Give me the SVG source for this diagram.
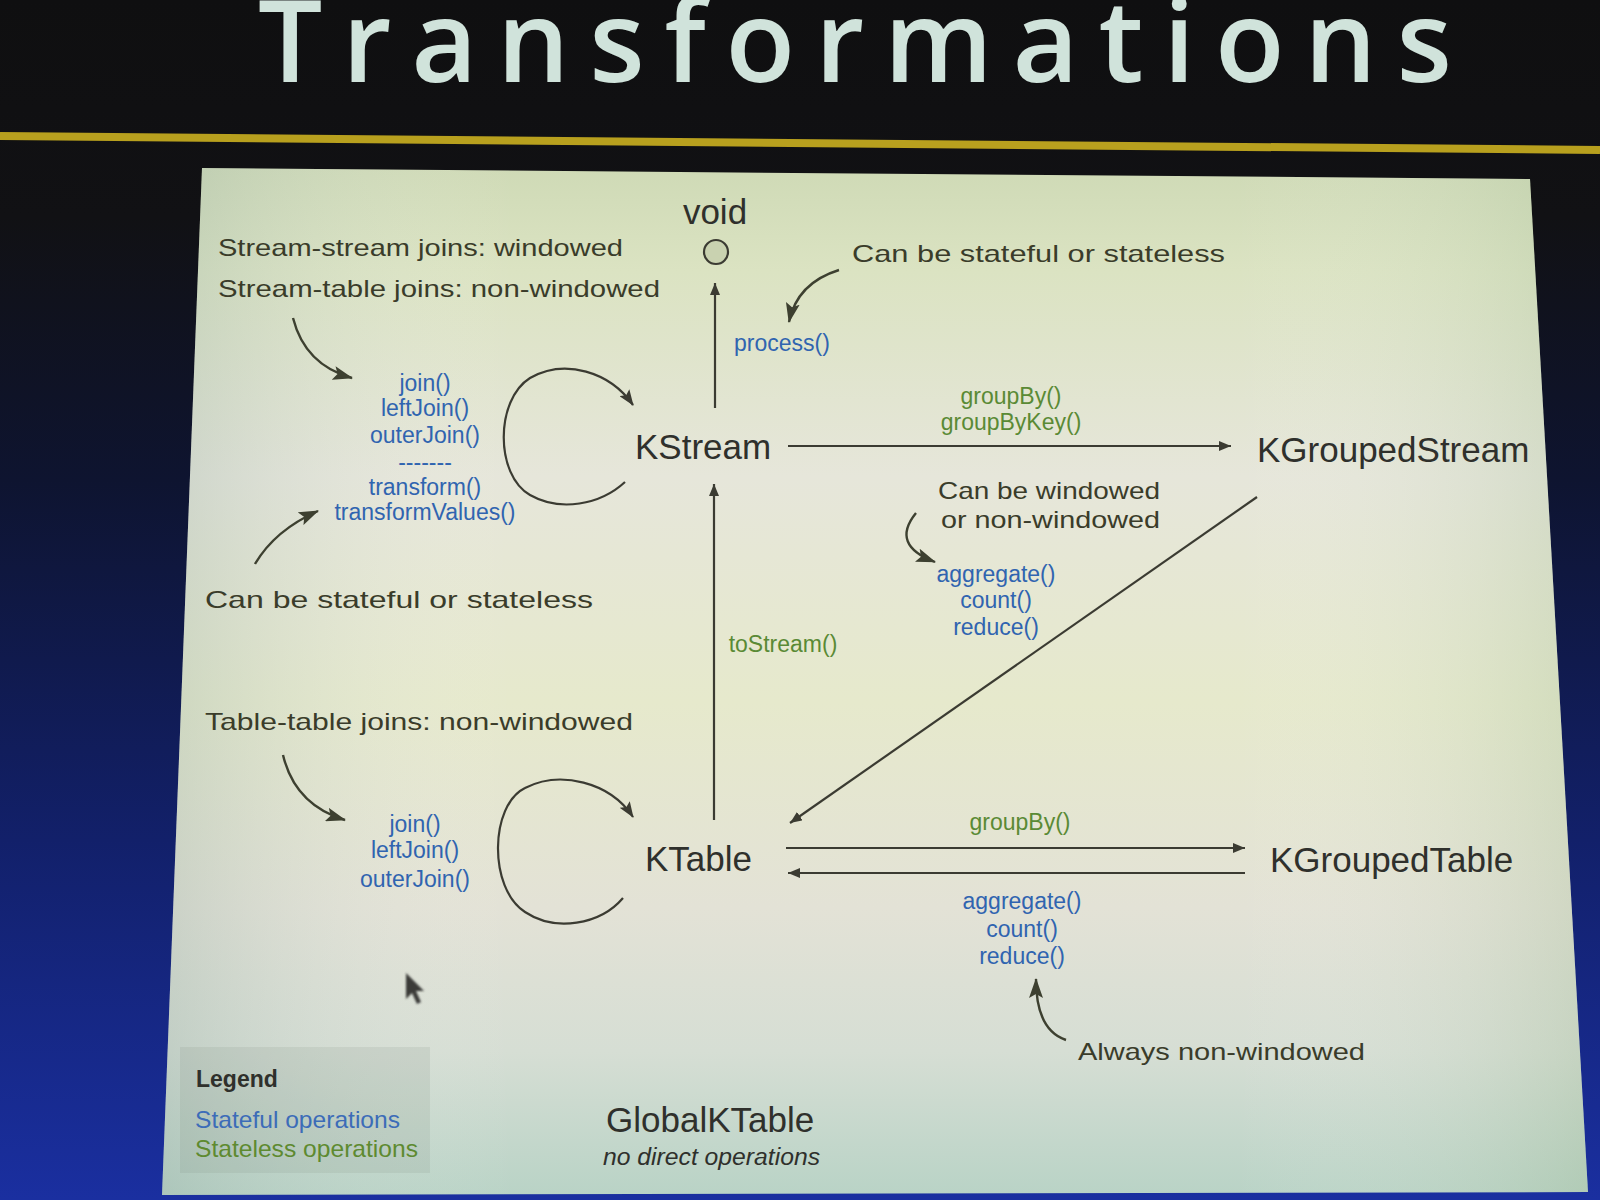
<svg xmlns="http://www.w3.org/2000/svg" width="1600" height="1200" viewBox="0 0 1600 1200">
<defs>
<style>
.node{font-family:"Liberation Sans",Arial,sans-serif;font-size:35px;fill:#2f302c}
.op{font-family:"Liberation Sans",Arial,sans-serif;font-size:23px;text-anchor:middle}
.blue{fill:#3064b0}
.green{fill:#5a8a35}
.hand{font-family:"Liberation Sans",Arial,sans-serif;font-size:24px;fill:#3a3c2a}
.conn{stroke:#3b3b32;stroke-width:2.2;fill:none}
.ann{stroke:#3d4030;stroke-width:2.4;fill:none}
</style>
<linearGradient id="bg" x1="0" y1="0" x2="0" y2="1200" gradientUnits="userSpaceOnUse">
<stop offset="0" stop-color="#0f0f10"/>
<stop offset="0.18" stop-color="#111114"/>
<stop offset="0.4" stop-color="#0e1430"/>
<stop offset="0.7" stop-color="#12206a"/>
<stop offset="1" stop-color="#1a2fa0"/>
</linearGradient>
<linearGradient id="panel" x1="0" y1="168" x2="0" y2="1195" gradientUnits="userSpaceOnUse">
<stop offset="0" stop-color="#cfdab6"/>
<stop offset="0.1" stop-color="#dbe3c2"/>
<stop offset="0.3" stop-color="#e6e6da"/>
<stop offset="0.52" stop-color="#e6e9cc"/>
<stop offset="0.72" stop-color="#e3e2d6"/>
<stop offset="0.86" stop-color="#d6ded4"/>
<stop offset="1" stop-color="#b9d3c6"/>
</linearGradient>
<linearGradient id="panelH" x1="160" y1="0" x2="1590" y2="0" gradientUnits="userSpaceOnUse">
<stop offset="0" stop-color="#8ea8a0" stop-opacity="0.3"/>
<stop offset="0.25" stop-color="#ffffff" stop-opacity="0"/>
<stop offset="0.75" stop-color="#ffffff" stop-opacity="0"/>
<stop offset="1" stop-color="#9cb890" stop-opacity="0.3"/>
</linearGradient>
<marker id="ah" viewBox="0 0 12 10" refX="12" refY="5" markerWidth="12" markerHeight="10" markerUnits="userSpaceOnUse" orient="auto">
<path d="M0,0 L12,5 L0,10 z" fill="#3b3b32"/>
</marker>
<marker id="ahLoop" viewBox="0 0 16 12" refX="15" refY="6" markerWidth="16" markerHeight="12" markerUnits="userSpaceOnUse" orient="auto">
<path d="M0,0 L16,6 L0,12 L3,6 z" fill="#3b3b32"/>
</marker>
<marker id="ahBig" viewBox="0 0 20 14" refX="19" refY="7" markerWidth="20" markerHeight="14" markerUnits="userSpaceOnUse" orient="auto">
<path d="M0,0 L20,7 L0,14 L4,7 z" fill="#3d4030"/>
</marker>
<filter id="soft" x="-20%" y="-20%" width="140%" height="140%">
<feGaussianBlur stdDeviation="0.9"/>
</filter>
</defs>

<rect x="0" y="0" width="1600" height="1200" fill="url(#bg)"/>

<g id="title">
<text x="258" y="82" font-family="'Open Sans', Lato, sans-serif" font-size="114" font-weight="600" fill="#d0e3db" style="font-variant-ligatures:none" textLength="1194" lengthAdjust="spacing">Transformations</text>
</g>
<line x1="0" y1="136" x2="1600" y2="150" stroke="#b8a01e" stroke-width="8"/>

<g id="slide">
<polygon points="202,168 1530,179 1588,1192 162,1195" fill="url(#panel)"/>
<polygon points="202,168 1530,179 1588,1192 162,1195" fill="url(#panelH)"/>
</g>

<g id="connectors">
<line class="conn" x1="715" y1="408" x2="715" y2="283" marker-end="url(#ah)"/>
<line class="conn" x1="714" y1="820" x2="714" y2="484" marker-end="url(#ah)"/>
<line class="conn" x1="788" y1="446" x2="1231" y2="446" marker-end="url(#ah)"/>
<line class="conn" x1="1257" y1="497" x2="790" y2="823" marker-end="url(#ah)"/>
<line class="conn" x1="786" y1="848" x2="1245" y2="848" marker-end="url(#ah)"/>
<line class="conn" x1="1245" y1="873" x2="788" y2="873" marker-end="url(#ah)"/>
<path class="conn" d="M625,482 C600,505 560,512 530,495 C495,475 495,400 530,378 C565,358 610,372 633,405" marker-end="url(#ahLoop)"/>
<path class="conn" d="M623,898 C600,925 555,932 525,912 C488,888 490,805 525,788 C560,770 610,782 633,817" marker-end="url(#ahLoop)"/>
</g>

<g id="node-void">
<text class="node" x="715" y="224" font-size="32" text-anchor="middle">void</text>
<circle cx="716" cy="252" r="12" fill="#c9d2b0" stroke="#3b3b32" stroke-width="2.2"/>
</g>
<g id="node-kstream">
<text class="node" x="635" y="459">KStream</text>
</g>
<g id="node-kgroupedstream">
<text class="node" x="1257" y="462">KGroupedStream</text>
</g>
<g id="node-ktable">
<text class="node" x="645" y="871">KTable</text>
</g>
<g id="node-kgroupedtable">
<text class="node" x="1270" y="872">KGroupedTable</text>
</g>
<g id="node-globalktable">
<text class="node" x="606" y="1132">GlobalKTable</text>
<text x="603" y="1165" font-family="'Liberation Sans',Arial,sans-serif" font-size="23" font-style="italic" fill="#2f302c" textLength="217" lengthAdjust="spacingAndGlyphs">no direct operations</text>
</g>

<g id="edge-labels">
<text class="op blue" x="782" y="351">process()</text>
<text class="op green" x="1011" y="404">groupBy()</text>
<text class="op green" x="1011" y="430">groupByKey()</text>
<text class="op blue" x="996" y="582">aggregate()</text>
<text class="op blue" x="996" y="608">count()</text>
<text class="op blue" x="996" y="635">reduce()</text>
<text class="op green" x="783" y="652">toStream()</text>
<text class="op green" x="1020" y="830">groupBy()</text>
<text class="op blue" x="1022" y="909">aggregate()</text>
<text class="op blue" x="1022" y="937">count()</text>
<text class="op blue" x="1022" y="964">reduce()</text>
<text class="op blue" x="425" y="391">join()</text>
<text class="op blue" x="425" y="416">leftJoin()</text>
<text class="op blue" x="425" y="443">outerJoin()</text>
<text class="op blue" x="425" y="470">-------</text>
<text class="op blue" x="425" y="495">transform()</text>
<text class="op blue" x="425" y="520">transformValues()</text>
<text class="op blue" x="415" y="832">join()</text>
<text class="op blue" x="415" y="858">leftJoin()</text>
<text class="op blue" x="415" y="887">outerJoin()</text>
</g>

<g id="annotations">
<text class="hand" x="218" y="256" textLength="405" lengthAdjust="spacingAndGlyphs">Stream-stream joins: windowed</text>
<text class="hand" x="218" y="297" textLength="442" lengthAdjust="spacingAndGlyphs">Stream-table joins: non-windowed</text>
<text class="hand" x="852" y="262" textLength="373" lengthAdjust="spacingAndGlyphs">Can be stateful or stateless</text>
<text class="hand" x="205" y="608" textLength="388" lengthAdjust="spacingAndGlyphs">Can be stateful or stateless</text>
<text class="hand" x="938" y="499" textLength="222" lengthAdjust="spacingAndGlyphs">Can be windowed</text>
<text class="hand" x="941" y="528" textLength="219" lengthAdjust="spacingAndGlyphs">or non-windowed</text>
<text class="hand" x="205" y="730" textLength="428" lengthAdjust="spacingAndGlyphs">Table-table joins: non-windowed</text>
<text class="hand" x="1078" y="1060" textLength="287" lengthAdjust="spacingAndGlyphs">Always non-windowed</text>
<path class="ann" d="M293,318 Q305,365 352,378" marker-end="url(#ahBig)"/>
<path class="ann" d="M255,564 Q275,530 318,511" marker-end="url(#ahBig)"/>
<path class="ann" d="M839,270 Q797,283 789,322" marker-end="url(#ahBig)"/>
<path class="ann" d="M916,513 Q890,545 935,562" marker-end="url(#ahBig)"/>
<path class="ann" d="M283,755 Q295,805 345,820" marker-end="url(#ahBig)"/>
<path class="ann" d="M1066,1040 Q1036,1030 1036,979" marker-end="url(#ahBig)"/>
</g>

<g id="legend">
<rect x="180" y="1047" width="250" height="126" fill="#7a8a78" fill-opacity="0.14"/>
<text x="196" y="1087" font-family="'Liberation Sans',Arial,sans-serif" font-size="23" font-weight="bold" fill="#2f302c">Legend</text>
<text x="195" y="1128" font-family="'Liberation Sans',Arial,sans-serif" font-size="24" fill="#3c6cb8" textLength="205" lengthAdjust="spacingAndGlyphs">Stateful operations</text>
<text x="195" y="1157" font-family="'Liberation Sans',Arial,sans-serif" font-size="24" fill="#5e8a30" textLength="223" lengthAdjust="spacingAndGlyphs">Stateless operations</text>
</g>

<g id="cursor" filter="url(#soft)">
<polygon points="406,973 406,999 412,993 417,1004 421,1002 416,991 424,991" fill="#3a3a38"/>
</g>
</svg>
